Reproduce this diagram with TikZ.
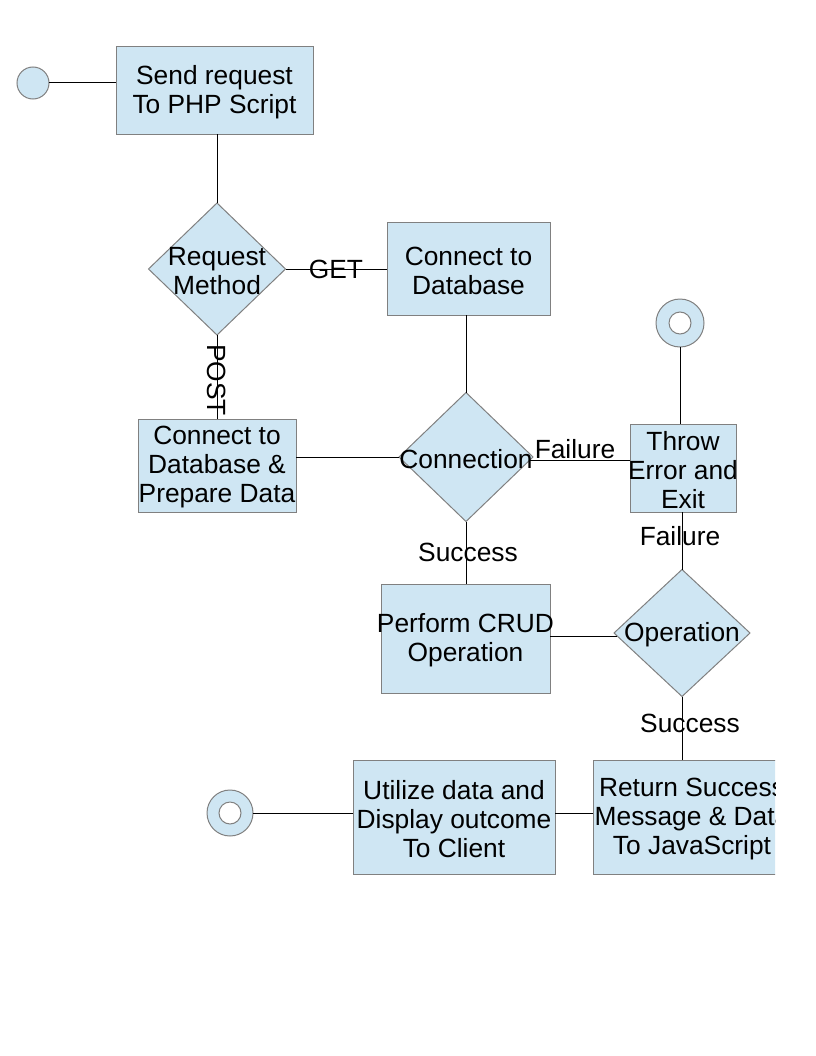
\documentclass[tikz,border=0pt]{standalone}
\usepackage{fontspec}
\setmainfont{Liberation Sans}
\usetikzlibrary{shapes.geometric}
\definecolor{boxfill}{RGB}{207,230,243}
\definecolor{boxline}{RGB}{128,128,128}
\begin{document}
\begin{tikzpicture}[x=0.75pt,y=-0.75pt,
 shp/.style={fill=boxfill, draw=boxline, line width=0.75pt, inner sep=0pt, outer sep=0pt},
 box/.style={shp, rectangle},
 dia/.style={shp, diamond},
 txt/.style={align=center, font=\fontsize{19.75}{21.75}\selectfont, inner sep=0pt, text=black, yshift=-1.5pt},
 conn/.style={draw=black, line width=0.75pt},
 lbl/.style={font=\fontsize{19.75}{21.75}\selectfont, inner sep=0pt, text=black}]
\useasboundingbox (0,0) rectangle (816,1056);
\begin{scope}
\clip (0,0) rectangle (775,1056);
% shapes
\node[shp, circle, minimum size=24pt] (c0) at (33,83) {};
\node[box, minimum width=147.75pt, minimum height=65.25pt] (b1) at (214.5,90.5) {};
\node[txt] (b1t) at (b1) {Send request\\To PHP Script};
\node[dia, minimum width=102.75pt, minimum height=99pt] (rm) at (217,269) {};
\node[txt] (rmt) at (rm) {Request\\Method};
\node[box, minimum width=122.25pt, minimum height=69.75pt] (b2) at (468.5,268.5) {};
\node[txt] (b2t) at (b2) {Connect to\\Database};
\node[box, minimum width=118.5pt, minimum height=69.75pt] (b3) at (217,465.5) {};
\node[txt] (b3t) at (b3) {Connect to\\Database \&\\Prepare Data};
\node[dia, minimum width=100.5pt, minimum height=96.75pt] (cn) at (466,457) {};
\node[txt] (cnt) at (cn) {Connection};
\node[shp, circle, minimum size=36pt] (r1) at (680,323) {};
\node[circle, fill=white, draw=boxline, line width=0.75pt, minimum size=16.5pt, inner sep=0pt] (r1i) at (r1) {};
\node[box, minimum width=79.5pt, minimum height=66pt] (th) at (683,468) {};
\node[txt] (tht) at (th) {Throw\\Error and\\Exit};
\node[box, minimum width=126.75pt, minimum height=81.75pt] (cr) at (465.5,638.5) {};
\node[txt] (crt) at (cr) {Perform CRUD\\Operation};
\node[dia, minimum width=102pt, minimum height=95.25pt] (op) at (682,633) {};
\node[txt] (opt) at (op) {Operation};
\node[box, minimum width=148.5pt, minimum height=85.5pt] (rt) at (692,817) {};
\node[txt] (rtt) at (rt) {Return Success\\Message \& Data\\To JavaScript};
\node[box, minimum width=151.5pt, minimum height=85.5pt] (ut) at (454,817) {};
\node[txt] (utt) at (ut) {Utilize data and\\Display outcome\\To Client};
\node[shp, circle, minimum size=34.5pt] (r2) at (230,813) {};
\node[circle, fill=white, draw=boxline, line width=0.75pt, minimum size=16.5pt, inner sep=0pt] (r2i) at (r2) {};
% connectors
\draw[conn] (c0.east) -- (c0.east -| b1.west);
\draw[conn] (rm.north |- b1.south) -- (rm.north);
\draw[conn] (rm.east) -- (rm.east -| b2.west);
\draw[conn] (rm.south) -- (rm.south |- b3.north);
\draw[conn] (b2.south -| cn.north) -- (cn.north);
\draw[conn] (cn.west -| b3.east) -- (cn.west);
\draw[conn] ([xshift=-2pt,yshift=-2.25pt]cn.east) -- ([yshift=-2.25pt]cn.east -| th.west);
\draw[conn] (r1.south) -- (r1.south |- th.north);
\draw[conn] (th.south -| op.north) -- (op.north);
\draw[conn] (cn.south) -- (cn.south |- cr.north);
\draw[conn] ([yshift=-2.25pt]op.west -| cr.east) -- ([yshift=-2.25pt,xshift=2pt]op.west);
\draw[conn] (op.south) -- (op.south |- rt.north);
\draw[conn] ([yshift=3pt]rt.west) -- ([yshift=3pt]ut.east);
\draw[conn] (r2.east) -- (r2.east -| ut.west);
% labels
\node[lbl] (lget) at (336,269) {GET};
\node[lbl, rotate=-90] (lpost) at (217,380) {POST};
\node[lbl] (lf1) at (575,449) {Failure};
\node[lbl] (lf2) at (680,536) {Failure};
\node[lbl] (ls1) at (468,552) {Success};
\node[lbl] (ls2) at (690,723) {Success};
\end{scope}
\end{tikzpicture}
\end{document}
